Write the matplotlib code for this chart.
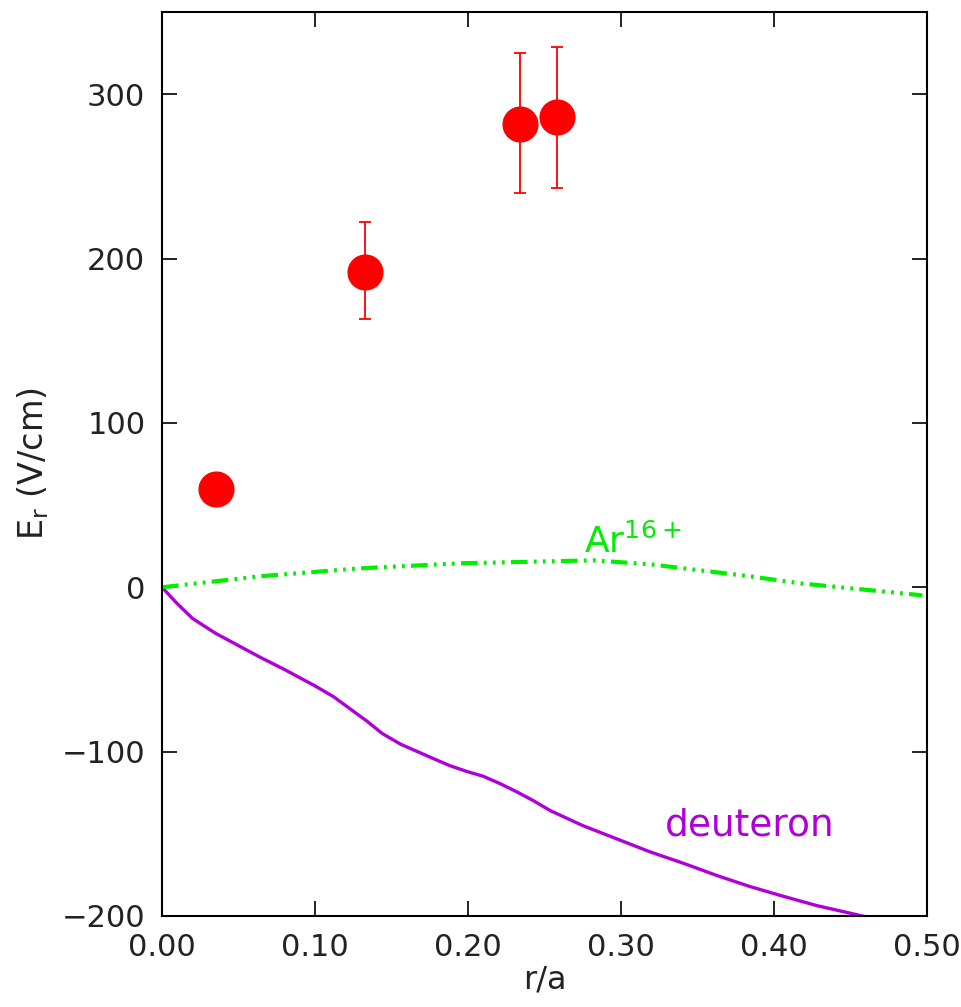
import numpy as np
import matplotlib
matplotlib.use('Agg')
import matplotlib.pyplot as plt

plt.rcParams['lines.scale_dashes'] = False

# measured E_r points
r_meas = [0.035, 0.133, 0.234, 0.258]
er_meas = [60, 192, 282, 286]
er_lo = [60, 163, 240, 243]
er_hi = [60, 222, 325, 329]

# deuteron neoclassical profile
r_d = [0.0, 0.01, 0.02, 0.035, 0.05, 0.065, 0.08, 0.10, 0.112, 0.123, 0.134, 0.144,
       0.156, 0.167, 0.178, 0.188, 0.199, 0.210, 0.221, 0.232, 0.243, 0.254,
       0.275, 0.297, 0.319, 0.341, 0.363, 0.384, 0.406, 0.428, 0.453, 0.50]
er_d = [0, -10, -19, -28, -35.5, -43, -50, -60, -66.5, -74, -81.5, -89,
        -95.5, -100, -104.5, -108.5, -112, -115, -119.5, -124.5, -130, -136,
        -145, -153, -161, -168, -175.5, -182, -188, -193.7, -199, -209]

# Ar16+ profile
r_ar = [0.0, 0.064, 0.129, 0.195, 0.254, 0.282, 0.319, 0.352, 0.384, 0.417, 0.45, 0.497]
er_ar = [0, 6.7, 11.5, 14.6, 15.8, 16.4, 14, 10.3, 6.7, 2.4, -0.6, -4.9]

xticks = [0.0, 0.1, 0.2, 0.3, 0.4, 0.5]
xticklabels = ['0.00', '0.10', '0.20', '0.30', '0.40', '0.50']
yticks = [-200, -100, 0, 100, 200, 300]

fig = plt.figure(figsize=(9.62, 10.07), dpi=100)
ax = fig.add_axes([0.1684, 0.0904, 0.7952, 0.8976])

ax.plot(r_d, er_d, color='#b000d8', lw=2.4)
ax.plot(r_ar, er_ar, color='#00ee00', lw=3,
        linestyle=(0, (12, 4.5, 2, 4.5, 2, 4.5, 2, 4.5)))

yerr = [np.array(er_meas) - np.array(er_lo), np.array(er_hi) - np.array(er_meas)]
ax.errorbar(r_meas, er_meas, yerr=yerr, fmt='o', color='red', ms=25,
            ecolor='red', elinewidth=1.3, capsize=4, capthick=1.3, zorder=3)

ax.text(0.276, 21, r'Ar$^\mathregular{16+}$', color='#00ee00', fontsize=26)
ax.text(0.329, -151, 'deuteron', color='#b000d8', fontsize=27)

ax.set_xlim(0, 0.5)
ax.set_ylim(-200, 350)
ax.set_xticks(xticks)
ax.set_xticklabels(xticklabels)
ax.set_yticks(yticks)
ax.tick_params(direction='in', length=11, width=1.4, labelsize=22,
               top=True, right=True, pad=12, colors='#222222')
for s in ax.spines.values():
    s.set_linewidth(1.5)
ax.set_xlabel('r/a', fontsize=23, labelpad=2, color='#222222')
ax.set_ylabel(r'E$_\mathrm{r}$ (V/cm)', fontsize=24, labelpad=8, color='#222222')

fig.savefig('out.png', dpi=100)
